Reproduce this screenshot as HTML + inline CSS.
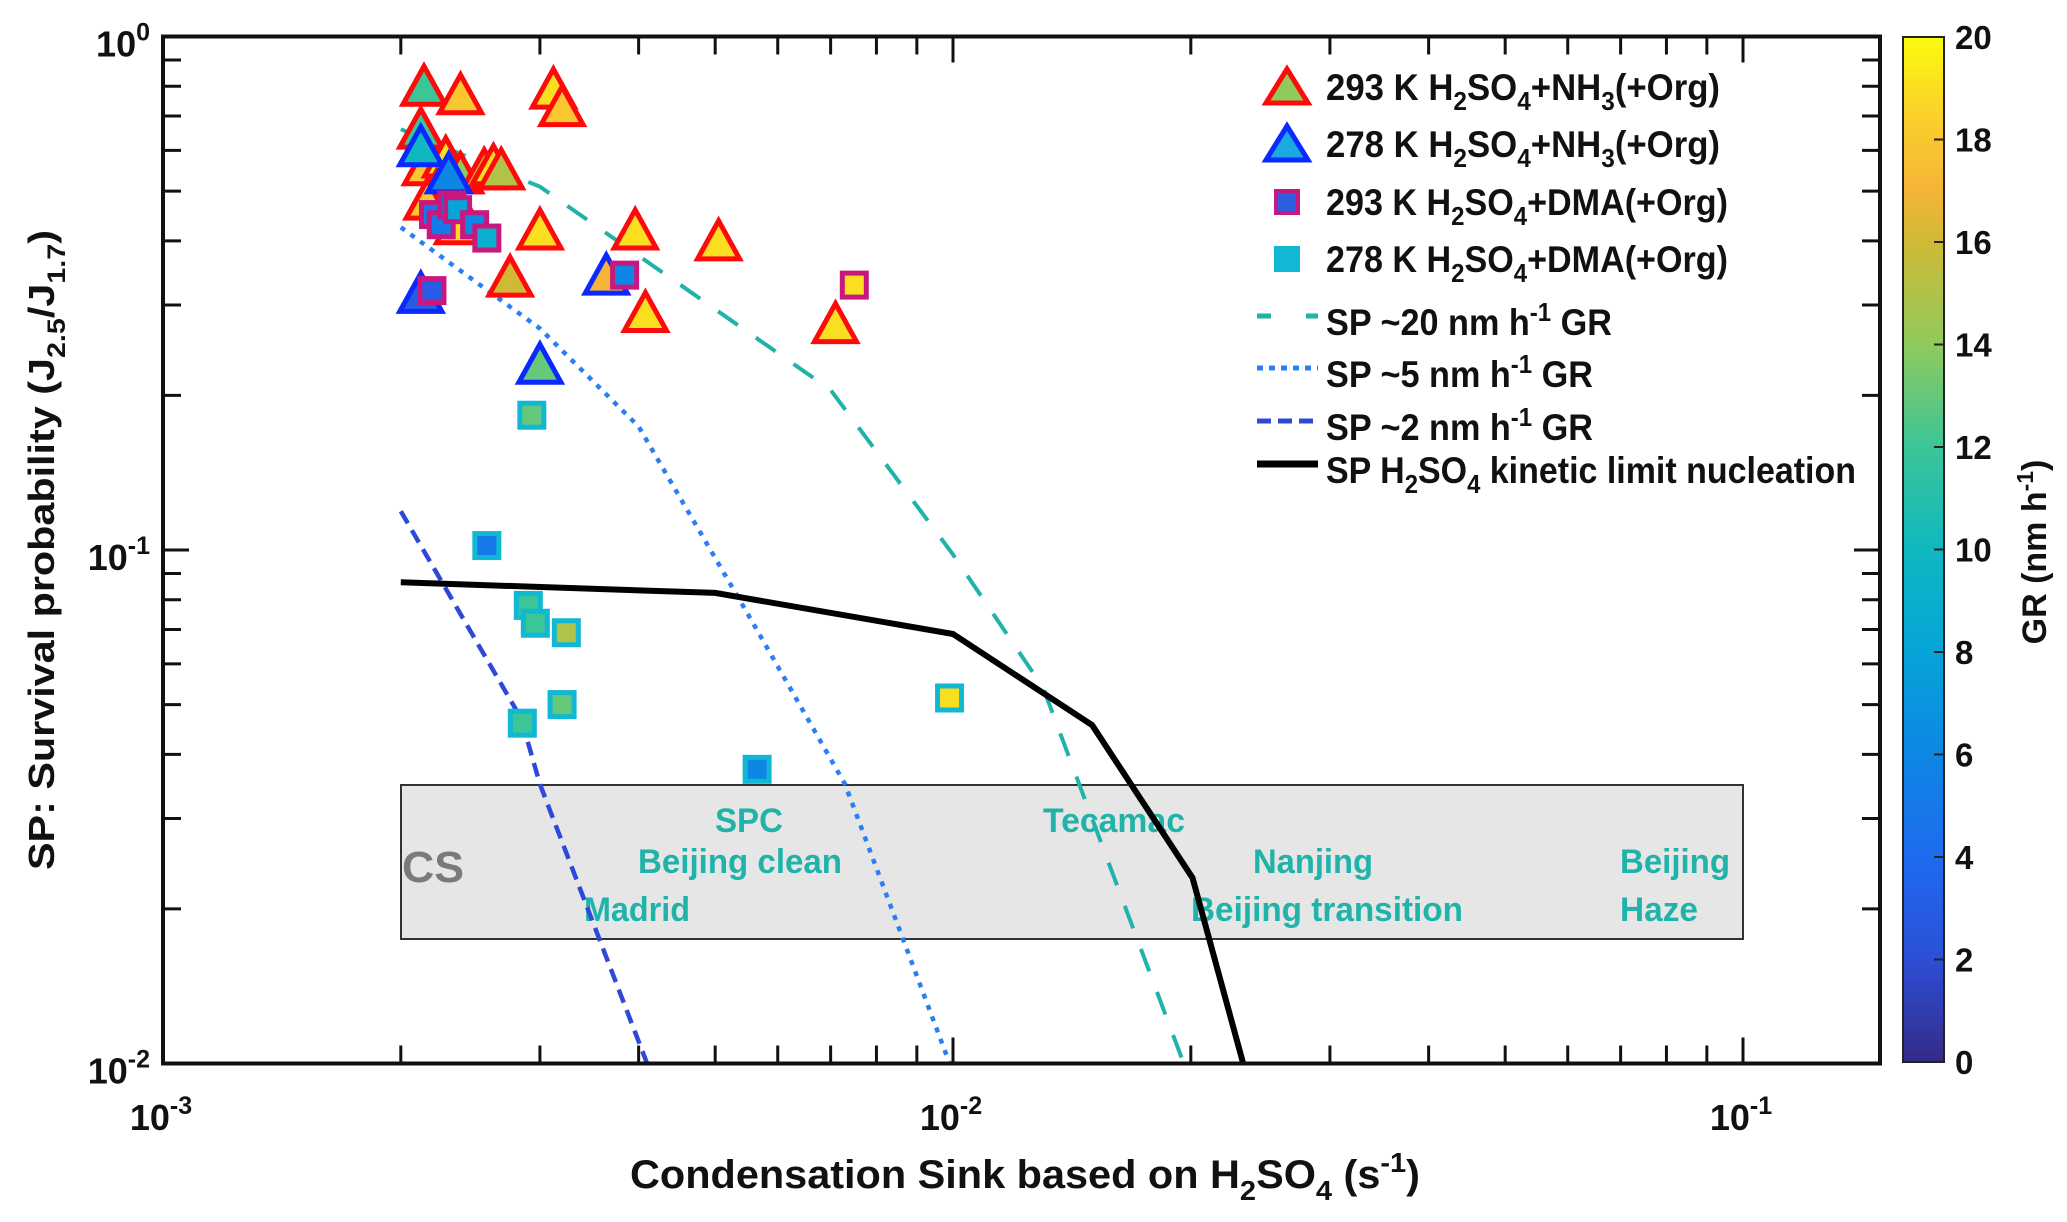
<!DOCTYPE html>
<html><head><meta charset="utf-8"><style>
html,body{margin:0;padding:0;background:#fff}
svg{display:block;font-family:"Liberation Sans",sans-serif;font-weight:bold}
</style></head><body>
<svg id="chart" width="2067" height="1222" viewBox="0 0 2067 1222" xmlns="http://www.w3.org/2000/svg">
<defs>
<linearGradient id="parula" x1="0" y1="1" x2="0" y2="0">
<stop offset="0" stop-color="#352a87"/><stop offset="0.1" stop-color="#2c4fd6"/><stop offset="0.2" stop-color="#1f6bf0"/><stop offset="0.3" stop-color="#0d87e3"/><stop offset="0.4" stop-color="#06a4d8"/><stop offset="0.5" stop-color="#0fb8c0"/><stop offset="0.6" stop-color="#3cc597"/><stop offset="0.7" stop-color="#8fca5d"/><stop offset="0.8" stop-color="#d0ba35"/><stop offset="0.85" stop-color="#f5b438"/><stop offset="0.92" stop-color="#fbcf2c"/><stop offset="1" stop-color="#f9fb0e"/>
</linearGradient>
<clipPath id="plotclip"><rect x="163" y="36" width="1717" height="1027"/></clipPath>
</defs>
<g id="cs-box-group"></g>
<g id="lines" clip-path="url(#plotclip)"></g>
<g id="markers"></g>
<g id="axes"></g>
<g id="legend"></g>
<g id="colorbar"></g>
</svg>
<script>
// ---- data ----
const gr20X = [0.002, 0.003, 0.007, 0.01, 0.013, 0.0195];
const gr20Y = [0.66, 0.51, 0.205, 0.098, 0.054, 0.0102];
const gr5X = [0.002, 0.003, 0.004, 0.0055, 0.0073, 0.0099];
const gr5Y = [0.425, 0.27, 0.174, 0.075, 0.035, 0.01];
const gr2X = [0.002, 0.00284, 0.003, 0.0041];
const gr2Y = [0.119, 0.047, 0.035, 0.01];
const kinX = [0.002, 0.005, 0.01, 0.015, 0.0201, 0.0233];
const kinY = [0.0865, 0.0825, 0.0686, 0.0456, 0.023, 0.01];

const nh3WarmX = [0.00214,0.00238,0.00312,0.0032,0.00212,0.00215,0.00228,0.00238,0.00255,0.00262,0.00268,0.00222,0.00232,0.00236,0.00216,0.003,0.00396,0.00505,0.00275,0.00408,0.0071];
const nh3WarmY = [0.80,0.77,0.79,0.73,0.66,0.56,0.58,0.54,0.55,0.56,0.55,0.50,0.49,0.43,0.48,0.42,0.42,0.40,0.34,0.29,0.276];
const nh3WarmGR = [12,18,19,18,12,18,19,14,16,19,15,18,19,19,18,19,19,19,16,19,19];
const nh3ColdX = [0.00212,0.00212,0.0023,0.003,0.00364];
const nh3ColdY = [0.316,0.61,0.54,0.23,0.343];
const nh3ColdGR = [3,10,6,13,17];
const dmaWarmX = [0.00219,0.0022,0.00225,0.00232,0.00236,0.00248,0.00257,0.00384,0.0075];
const dmaWarmY = [0.32,0.45,0.43,0.47,0.46,0.43,0.405,0.343,0.328];
const dmaWarmGR = [3,5,5,5,8,6,9,6,19];
const dmaColdX = [0.00293,0.00257,0.0029,0.00296,0.00324,0.00285,0.0032,0.0099,0.00565];
const dmaColdY = [0.183,0.102,0.078,0.072,0.069,0.046,0.050,0.0515,0.0374];
const dmaColdGR = [13,5,12,12,15,12,13,19,6];

const xTickLabels = ["-3","-2","-1"];
const yTickLabels = ["0","-1","-2"];
const cbTicks = [0,2,4,6,8,10,12,14,16,18,20];

// ---- axis functions ----
const L=163,R=1880,T=36.5,B=1063.5,DEC=790;
function X(v){return L+(Math.log10(v)+3)*DEC;}
function Y(v){return T+(-Math.log10(v))*(B-T)/2;}
const NS="http://www.w3.org/2000/svg";
function el(tag,attrs,parent){const e=document.createElementNS(NS,tag);for(const k in attrs)e.setAttribute(k,attrs[k]);parent.appendChild(e);return e;}
const stops=[[0,[53,42,135]],[0.1,[44,79,214]],[0.2,[31,107,240]],[0.3,[13,135,227]],[0.4,[6,164,216]],[0.5,[15,184,192]],[0.6,[60,197,151]],[0.7,[143,202,93]],[0.8,[208,186,53]],[0.85,[245,180,56]],[0.92,[251,207,44]],[1,[249,251,14]]];
function parula(g){let t=Math.max(0,Math.min(1,g/20));for(let i=1;i<stops.length;i++){if(t<=stops[i][0]){const a=stops[i-1],b=stops[i];const f=(t-a[0])/(b[0]-a[0]);const c=a[1].map((v,j)=>Math.round(v+(b[1][j]-v)*f));return `rgb(${c})`;}}return "rgb(249,251,14)";}

// ---- CS box ----
const csg=document.getElementById('cs-box-group');
const box=el('rect',{x:401,y:785,width:1342,height:154,fill:'#e6e6e6',stroke:'#333','stroke-width':2},csg);


const places=[["CS",402,882,'start','#7a7a7a',44,'cs-label',62],["SPC",749,832,'middle','#1fb3aa',34,'spc-label',68],["Beijing clean",740,873,'middle','#1fb3aa',34,'beijing-clean-label',204],["Madrid",584,921,'start','#1fb3aa',34,'madrid-label',106],["Tecamac",1114,832,'middle','#1fb3aa',34,'tecamac-label',142],["Nanjing",1313,873,'middle','#1fb3aa',34,'nanjing-label',120],["Beijing transition",1191,921,'start','#1fb3aa',34,'beijing-transition-label',272],["Beijing",1620,873,'start','#1fb3aa',34,'beijing-haze-label',110],["Haze",1620,921,'start','#1fb3aa',34,'haze-label',78]];
for(const p of places){const t=el('text',{x:p[1],y:p[2],'text-anchor':p[3],fill:p[4],'font-size':p[5],textLength:p[7],lengthAdjust:'spacingAndGlyphs'},csg);t.textContent=p[0];

}

// ---- lines ----
const lg=document.getElementById('lines');
function line(xs,ys,color,w,dash,name){const d=xs.map((x,i)=>(i?'L':'M')+X(x).toFixed(1)+' '+Y(ys[i]).toFixed(1)).join(' ');
const p=el('path',{d:d,fill:'none',stroke:color,'stroke-width':w,'stroke-dasharray':dash},lg);

}
line(gr20X,gr20Y,'#1fb3aa',4,'24 22','sp-20gr-line');
line(gr5X,gr5Y,'#2a7ff5',4.5,'5 7','sp-5gr-line');
line(gr2X,gr2Y,'#2e49d8',4.5,'14 8','sp-2gr-line');
line(kinX,kinY,'#000',6,'none','kinetic-limit-line');

// ---- markers ----
const mg=document.getElementById('markers');
function tri(cx,cy,edge,fill,name){const h=36,w=21;
const p=el('polygon',{points:`${cx},${cy-h/2-2} ${cx-w},${cy+h/2} ${cx+w},${cy+h/2}`,fill:fill,stroke:edge,'stroke-width':5,'stroke-linejoin':'miter'},mg);

}
function sq(cx,cy,edge,fill,name){const s=24;
const r=el('rect',{x:cx-s/2,y:cy-s/2,width:s,height:s,fill:fill,stroke:edge,'stroke-width':5},mg);

}
nh3WarmX.forEach((x,i)=>tri(X(x),Y(nh3WarmY[i]),'#ff0a0a',parula(nh3WarmGR[i]),'nh3-293k-point'));
nh3ColdX.forEach((x,i)=>tri(X(x),Y(nh3ColdY[i]),'#0a28ff',parula(nh3ColdGR[i]),'nh3-278k-point'));
dmaWarmX.forEach((x,i)=>sq(X(x),Y(dmaWarmY[i]),'#c8177f',parula(dmaWarmGR[i]),'dma-293k-point'));
dmaColdX.forEach((x,i)=>sq(X(x),Y(dmaColdY[i]),'#10b8d4',parula(dmaColdGR[i]),'dma-278k-point'));

// ---- axes ----
const ag=document.getElementById('axes');
const frame=el('rect',{x:L,y:T,width:R-L,height:B-T,fill:'none',stroke:'#111','stroke-width':4},ag);


for(let d=-3;d<=-1;d++){for(let m=1;m<=9;m++){const v=m*Math.pow(10,d);const x=X(v);if(x>R)break;const len=m===1?26:18;
el('line',{x1:x,y1:B,x2:x,y2:B-len,stroke:'#111','stroke-width':3},ag);
el('line',{x1:x,y1:T,x2:x,y2:T+len,stroke:'#111','stroke-width':3},ag);}}
for(let d=-2;d<=-1;d++){for(let m=1;m<=9;m++){const v=m*Math.pow(10,d);const y=Y(v);const len=m===1?26:18;
el('line',{x1:L,y1:y,x2:L+len,y2:y,stroke:'#111','stroke-width':3},ag);
el('line',{x1:R,y1:y,x2:R-len,y2:y,stroke:'#111','stroke-width':3},ag);}}
xTickLabels.forEach((s,i)=>{const x=X(Math.pow(10,+s));const t=el('text',{x:x-2,y:1130,'text-anchor':'middle','font-size':36,fill:'#111'},ag);
t.innerHTML=`10<tspan dy="-16" font-size="25">${s}</tspan>`;

});
yTickLabels.forEach((s,i)=>{const y=Y(Math.pow(10,+s));const t=el('text',{x:150,y:y+20,'text-anchor':'end','font-size':36,fill:'#111'},ag);
t.innerHTML=`10<tspan dy="-16" font-size="25">${s}</tspan>`;

});
const xt=el('text',{x:630,y:1188,'font-size':40,fill:'#111',textLength:790,lengthAdjust:'spacingAndGlyphs'},ag);
xt.innerHTML='Condensation Sink based on H<tspan dy="12" font-size="28">2</tspan><tspan dy="-12">SO</tspan><tspan dy="12" font-size="28">4</tspan><tspan dy="-12"> (s</tspan><tspan dy="-16" font-size="28">-1</tspan><tspan dy="16">)</tspan>';


const yt=el('text',{x:0,y:0,'font-size':36,fill:'#111',textLength:640,lengthAdjust:'spacingAndGlyphs',transform:'translate(54,870) rotate(-90)'},ag);
yt.innerHTML='SP: Survival probability (J<tspan dy="11" font-size="25">2.5</tspan><tspan dy="-11">/J</tspan><tspan dy="11" font-size="25">1.7</tspan><tspan dy="-11">)</tspan>';



// ---- legend ----
const leg=document.getElementById('legend');
const legItems=[
 ['tri','#ff0a0a','#8fca5d',87,'293 K H<tspan dy="10" font-size="26">2</tspan><tspan dy="-10">SO</tspan><tspan dy="10" font-size="26">4</tspan><tspan dy="-10">+NH</tspan><tspan dy="10" font-size="26">3</tspan><tspan dy="-10">(+Org)</tspan>',394,'legend-nh3-293k'],
 ['tri','#0a28ff','#1aa9e0',144,'278 K H<tspan dy="10" font-size="26">2</tspan><tspan dy="-10">SO</tspan><tspan dy="10" font-size="26">4</tspan><tspan dy="-10">+NH</tspan><tspan dy="10" font-size="26">3</tspan><tspan dy="-10">(+Org)</tspan>',394,'legend-nh3-278k'],
 ['sq','#c8177f','#2c5fe0',202,'293 K H<tspan dy="10" font-size="26">2</tspan><tspan dy="-10">SO</tspan><tspan dy="10" font-size="26">4</tspan><tspan dy="-10">+DMA(+Org)</tspan>',402,'legend-dma-293k'],
 ['sq','#10b8d4','#10b8d4',259,'278 K H<tspan dy="10" font-size="26">2</tspan><tspan dy="-10">SO</tspan><tspan dy="10" font-size="26">4</tspan><tspan dy="-10">+DMA(+Org)</tspan>',402,'legend-dma-278k'],
 ['ln','#1fb3aa','14 35',322,'SP ~20 nm h<tspan dy="-14" font-size="26">-1</tspan><tspan dy="14"> GR</tspan>',286,'legend-sp-20gr'],
 ['ln','#2a7ff5','6 6',374,'SP ~5 nm h<tspan dy="-14" font-size="26">-1</tspan><tspan dy="14"> GR</tspan>',267,'legend-sp-5gr'],
 ['ln','#2e49d8','14 7',427,'SP ~2 nm h<tspan dy="-14" font-size="26">-1</tspan><tspan dy="14"> GR</tspan>',267,'legend-sp-2gr'],
 ['ln','#000','none',470,'SP H<tspan dy="10" font-size="26">2</tspan><tspan dy="-10">SO</tspan><tspan dy="10" font-size="26">4</tspan><tspan dy="-10"> kinetic limit nucleation</tspan>',530,'legend-kinetic-limit']];
for(const it of legItems){const g=el('g',{},leg);


const cy=it[3];
if(it[0]==='tri')el('polygon',{points:`1287,${cy-18} 1266,${cy+16} 1308,${cy+16}`,fill:it[2],stroke:it[1],'stroke-width':5},g);
else if(it[0]==='sq')el('rect',{x:1276,y:cy-11,width:22,height:22,fill:it[2],stroke:it[1],'stroke-width':4},g);
else el('line',{x1:1257,y1:cy-6,x2:1318,y2:cy-6,stroke:it[1],'stroke-width':it[2]==='none'?7:5,'stroke-dasharray':it[2]},g);
const t=el('text',{x:1326,y:cy+13,'font-size':37,fill:'#111',textLength:it[5],lengthAdjust:'spacingAndGlyphs'},g);
t.innerHTML=it[4];}

// ---- colorbar ----
const cb=document.getElementById('colorbar');
const bar=el('rect',{x:1903,y:37,width:41,height:1025,fill:'url(#parula)',stroke:'#222','stroke-width':2},cb);


cbTicks.forEach(v=>{const y=1062-v/20*1025;
el('line',{x1:1934,y1:y,x2:1944,y2:y,stroke:'#222','stroke-width':2},cb);
const t=el('text',{x:1955,y:y+12,'font-size':33,fill:'#111'},cb);t.textContent=v;

});
const cbt=el('text',{x:0,y:0,'font-size':34,fill:'#111','text-anchor':'middle',transform:'translate(2046,552) rotate(-90)'},cb);
cbt.innerHTML='GR (nm h<tspan dy="-13" font-size="23">-1</tspan><tspan dy="13">)</tspan>';


</script>
</body></html>
